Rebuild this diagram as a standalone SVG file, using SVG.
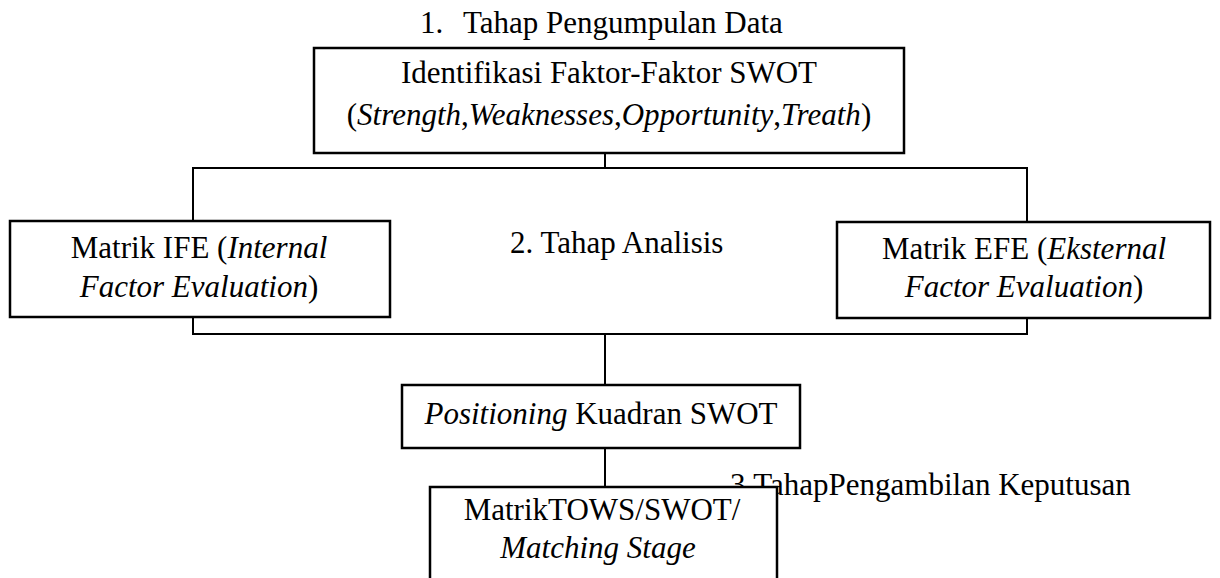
<svg xmlns="http://www.w3.org/2000/svg" width="1220" height="578" viewBox="0 0 1220 578">
  <style>
    text { font-family: "Liberation Serif", "Times New Roman", serif; font-size: 31px; fill: #000; }
    .c { text-anchor: middle; }
    .i { font-style: italic; }
    .box { fill: #fff; stroke: #000; stroke-width: 2.5; }
    .wire { fill: none; stroke: #000; stroke-width: 2; }
  </style>
  <rect width="1220" height="578" fill="#fff"/>

  <!-- stage labels -->
  <g id="stage-1">
    <text x="420" y="33">1.</text>
    <text x="463" y="33">Tahap Pengumpulan Data</text>
  </g>
  <g id="stage-2">
    <text x="510" y="253">2. Tahap Analisis</text>
  </g>
  <g id="stage-3">
    <text x="730" y="495">3.TahapPengambilan Keputusan</text>
  </g>

  <!-- connectors -->
  <g id="connectors">
    <line class="wire" x1="605" y1="153" x2="605" y2="168"/>
    <rect class="wire" x="193" y="168" width="834" height="166"/>
    <line class="wire" x1="605" y1="334" x2="605" y2="385"/>
    <line class="wire" x1="605" y1="448" x2="605" y2="487"/>
  </g>

  <g id="swot-factors">
    <rect class="box" x="314" y="48" width="590" height="105"/>
    <text class="c" x="609" y="83">Identifikasi Faktor-Faktor SWOT</text>
    <text class="c" x="609" y="125">(<tspan class="i">Strength</tspan>,<tspan class="i">Weaknesses</tspan>,<tspan class="i">Opportunity</tspan>,<tspan class="i">Treath</tspan>)</text>
  </g>

  <g id="ife-matrix">
    <rect class="box" x="10" y="221" width="380" height="96"/>
    <text class="c" x="199" y="258">Matrik IFE (<tspan class="i">Internal</tspan></text>
    <text class="c" x="199" y="297"><tspan class="i">Factor Evaluation</tspan>)</text>
  </g>

  <g id="efe-matrix">
    <rect class="box" x="837" y="222" width="373" height="96"/>
    <text class="c" x="1024" y="259">Matrik EFE (<tspan class="i">Eksternal</tspan></text>
    <text class="c" x="1024" y="297"><tspan class="i">Factor Evaluation</tspan>)</text>
  </g>

  <g id="swot-quadrant">
    <rect class="box" x="402" y="385" width="398" height="63"/>
    <text class="c" x="601" y="424"><tspan class="i">Positioning</tspan> Kuadran SWOT</text>
  </g>

  <g id="tows-matrix">
    <rect class="box" x="430" y="487" width="347" height="110"/>
    <text class="c" x="602" y="520">MatrikTOWS/SWOT/</text>
    <text class="c i" x="598" y="558">Matching Stage</text>
  </g>
</svg>
